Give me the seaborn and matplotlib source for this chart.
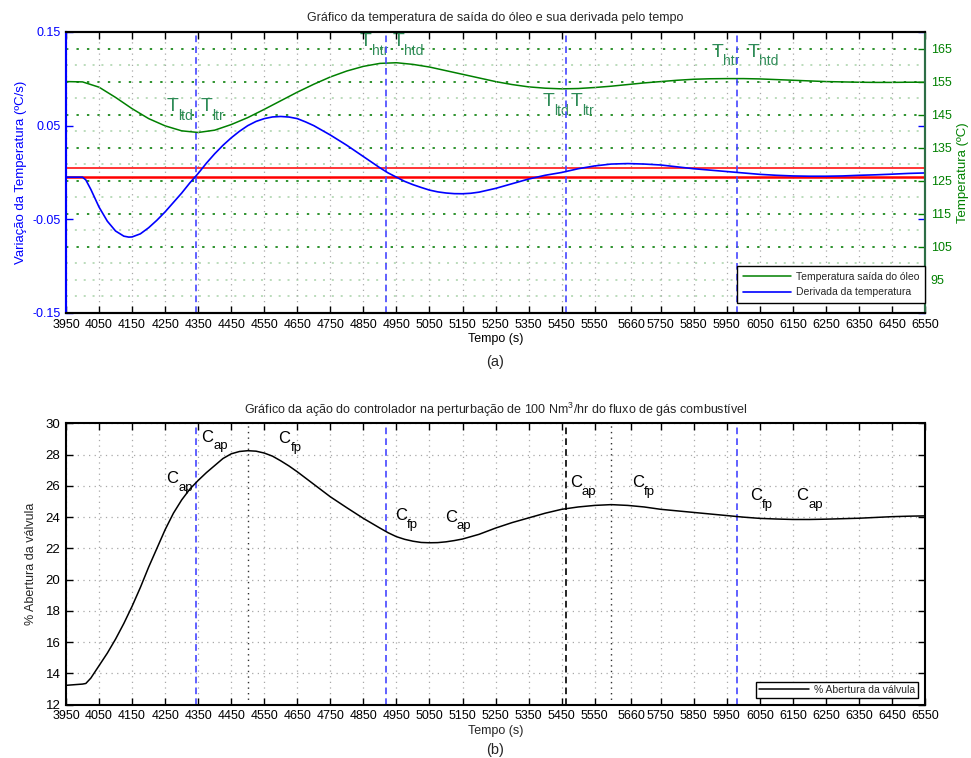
import matplotlib
matplotlib.use("Agg")
import matplotlib.pyplot as plt
import pandas as pd
import seaborn as sns

sns.set_theme(style="white")
plt.rcParams["font.family"] = ["Liberation Sans", "DejaVu Sans"]
plt.rcParams["mathtext.default"] = "regular"

# ---------------- data ----------------
# derivative of the oil outlet temperature (ºC/s)
deriv_time = [3950, 4000, 4010, 4025, 4050, 4075, 4100, 4125, 4140, 4150, 4175, 4200,
              4225, 4250, 4275, 4300, 4325, 4340, 4350, 4375, 4400, 4425, 4450, 4475,
              4500, 4525, 4550, 4575, 4600, 4625, 4650, 4675, 4700, 4750, 4800, 4850,
              4900, 4925, 4950, 4975, 5000, 5025, 5050, 5075, 5100, 5125, 5150, 5175,
              5200, 5250, 5300, 5350, 5400, 5450, 5500, 5550, 5600, 5650, 5700, 5750,
              5800, 5850, 5900, 5950, 6000, 6050, 6100, 6150, 6200, 6250, 6300, 6350,
              6400, 6450, 6500, 6550]
deriv_value = [-0.005, -0.005, -0.008, -0.018, -0.037, -0.052, -0.0625, -0.068, -0.069,
               -0.0688, -0.0655, -0.059, -0.051, -0.042, -0.032, -0.022, -0.011, -0.005,
               -0.001, 0.010, 0.020, 0.029, 0.037, 0.044, 0.050, 0.0545, 0.0575, 0.0593,
               0.0598, 0.0592, 0.0575, 0.054, 0.050, 0.040, 0.029, 0.017, 0.005, -0.0005,
               -0.005, -0.0095, -0.013, -0.016, -0.0188, -0.0207, -0.0219, -0.0226,
               -0.0227, -0.0222, -0.021, -0.017, -0.012, -0.007, -0.003, 0.000, 0.004,
               0.007, 0.009, 0.0095, 0.009, 0.008, 0.006, 0.004, 0.0025, 0.001, -0.0005,
               -0.002, -0.003, -0.0037, -0.004, -0.004, -0.0037, -0.003, -0.0025,
               -0.0018, -0.001, -0.0005]

# oil outlet temperature (ºC)
temp_time = [3950, 4000, 4050, 4100, 4150, 4200, 4250, 4300, 4350, 4400, 4450, 4500,
             4550, 4600, 4650, 4700, 4750, 4800, 4850, 4900, 4950, 5000, 5050, 5100,
             5150, 5200, 5250, 5300, 5350, 5400, 5450, 5500, 5550, 5600, 5650, 5700,
             5750, 5800, 5850, 5900, 5950, 6000, 6050, 6100, 6150, 6200, 6250, 6300,
             6350, 6400, 6450, 6500, 6550]
temp_value = [155.0, 154.9, 153.3, 150.2, 146.8, 143.8, 141.6, 140.1, 139.6, 140.3,
              142.0, 144.1, 146.6, 149.2, 151.8, 154.2, 156.4, 158.2, 159.6, 160.5,
              160.7, 160.2, 159.4, 158.3, 157.2, 156.1, 155.0, 154.1, 153.4, 153.0,
              152.8, 152.9, 153.2, 153.6, 154.1, 154.6, 155.0, 155.4, 155.7, 155.85,
              155.9, 155.9, 155.8, 155.6, 155.4, 155.2, 155.0, 154.9, 154.8, 154.75,
              154.75, 154.8, 154.8]

# valve opening (%)
valve_time = [3950, 3975, 4000, 4010, 4025, 4050, 4075, 4100, 4125, 4150, 4175, 4200,
              4225, 4250, 4275, 4300, 4325, 4350, 4375, 4400, 4425, 4450, 4475, 4500,
              4525, 4550, 4575, 4600, 4625, 4650, 4700, 4750, 4800, 4850, 4900, 4925,
              4950, 4975, 5000, 5025, 5050, 5075, 5100, 5125, 5150, 5200, 5250, 5300,
              5350, 5400, 5450, 5500, 5550, 5600, 5650, 5700, 5750, 5800, 5850, 5900,
              5950, 6000, 6050, 6100, 6150, 6200, 6250, 6300, 6350, 6400, 6450, 6500,
              6550]
valve_value = [13.24, 13.28, 13.32, 13.36, 13.7, 14.5, 15.3, 16.2, 17.2, 18.3, 19.5,
               20.8, 22.0, 23.2, 24.25, 25.1, 25.8, 26.35, 26.85, 27.3, 27.75, 28.05,
               28.2, 28.25, 28.22, 28.1, 27.9, 27.6, 27.27, 26.9, 26.1, 25.3, 24.6,
               23.92, 23.3, 23.0, 22.75, 22.58, 22.46, 22.38, 22.36, 22.37, 22.42, 22.5,
               22.6, 22.9, 23.3, 23.65, 23.95, 24.25, 24.5, 24.65, 24.75, 24.8, 24.75,
               24.65, 24.5, 24.4, 24.3, 24.2, 24.1, 24.0, 23.92, 23.88, 23.85, 23.85,
               23.87, 23.9, 23.93, 23.98, 24.03, 24.06, 24.08]

xtick_values = [3950, 4050, 4150, 4250, 4350, 4450, 4550, 4650, 4750, 4850, 4950, 5050,
                5150, 5250, 5350, 5450, 5550, 5660, 5750, 5850, 5950, 6050, 6150, 6250,
                6350, 6450, 6550]
xtick_labels = [str(v) for v in xtick_values]

deriv_ticks = [-0.15, -0.05, 0.05, 0.15]
deriv_tick_labels = ["-0.15", "-0.05", "0.05", "0.15"]
temp_ticks = [95, 105, 115, 125, 135, 145, 155, 165]
temp_minor_ticks = [90, 100, 110, 120, 130, 140, 150, 160, 170]
valve_ticks = [12, 14, 16, 18, 20, 22, 24, 26, 28, 30]

band_limits = [-0.005, 0.005]
event_times = [4342, 4917, 5462, 5980]
valve_extrema_times = [4500, 5600]

df_deriv = pd.DataFrame({"tempo": deriv_time, "derivada": deriv_value})
df_temp = pd.DataFrame({"tempo": temp_time, "temperatura": temp_value})
df_valve = pd.DataFrame({"tempo": valve_time, "abertura": valve_value})

# ---------------- styling ----------------
BLUE = "#0000ff"
GREEN = "#008000"
SPINE_GREEN = "#2d6e46"
TEXT_GREEN = "#2e8b57"
DASH_BLUE = "#4545ff"
GRID_GRAY = "#a8a8a8"
GRID_DARK_GREEN = "#1e8a1e"
GRID_LIGHT_GREEN = "#a8d2a8"
DOTS = (0, (1.3, 4.5))
FS = 9


def sub_label(ax, x, y, main, sub, color, size, sub_size, advance, drop):
    """Letter with a subscript placed below its baseline."""
    ax.text(x, y, main, color=color, fontsize=size, ha="left", va="baseline")
    ax.annotate(sub, xy=(x, y), xytext=(advance, -drop), textcoords="offset points",
                color=color, fontsize=sub_size, ha="left", va="baseline")


fig = plt.figure(figsize=(9.71, 7.58), dpi=100)
ax1 = fig.add_axes([0.068, 0.5871, 0.8847, 0.3707])
ax2 = ax1.twinx()
ax3 = fig.add_axes([0.068, 0.0703, 0.8847, 0.3712])

# derivative axis drawn above the temperature axis
ax1.set_zorder(ax2.get_zorder() + 1)
ax1.patch.set_visible(False)

# ---------------- top panel ----------------
sns.lineplot(data=df_temp, x="tempo", y="temperatura", ax=ax2, color=GREEN, lw=1.1,
             legend=False)
sns.lineplot(data=df_deriv, x="tempo", y="derivada", ax=ax1, color=BLUE, lw=1.2,
             legend=False)

ax1.axhline(band_limits[1], color="red", lw=1.1, zorder=1.5)
ax1.axhline(band_limits[0], color="red", lw=1.8, zorder=1.5)
for t in event_times:
    ax1.axvline(t, color=DASH_BLUE, lw=1.2, ls=(0, (4, 2.5)), zorder=1.8)

ax1.set_xlim(3950, 6550)
ax1.set_ylim(-0.15, 0.15)
ax2.set_ylim(85, 170)
ax1.set_xticks(xtick_values)
ax1.set_xticklabels(xtick_labels, fontsize=FS)
ax1.set_yticks(deriv_ticks)
ax1.set_yticklabels(deriv_tick_labels, fontsize=FS)
ax2.set_yticks(temp_ticks)
ax2.set_yticklabels([str(v) for v in temp_ticks], fontsize=FS)
ax2.set_yticks(temp_minor_ticks, minor=True)

ax1.grid(False)
ax2.grid(False)
ax1.grid(axis="x", color=GRID_GRAY, ls=(0, (1, 3.5)), lw=0.9)
ax2.grid(axis="y", which="minor", color=GRID_LIGHT_GREEN, ls=DOTS, lw=1.1)
for v in temp_ticks:
    ax2.axhline(v, color=GRID_DARK_GREEN if v > temp_ticks[0] else GRID_LIGHT_GREEN,
                ls=DOTS, lw=1.3 if v > temp_ticks[0] else 1.1, zorder=0.5)

ax1.tick_params(axis="x", direction="in", length=5, width=1, top=True, bottom=True,
                colors="black", pad=4)
ax1.tick_params(axis="y", direction="in", length=5, width=1, left=True, right=True,
                labelright=False, colors=BLUE, pad=4)
ax2.tick_params(axis="y", which="major", direction="in", length=5, width=1,
                colors=GREEN, pad=4)
ax2.tick_params(axis="y", which="minor", length=0)

for ax in (ax1, ax2):
    for side in ("top", "bottom"):
        ax.spines[side].set_color("black")
        ax.spines[side].set_linewidth(1.5)
    ax.spines["left"].set_color(BLUE)
    ax.spines["left"].set_linewidth(1.5)
    ax.spines["right"].set_color(SPINE_GREEN)
    ax.spines["right"].set_linewidth(1.5)

ax1.set_xlabel("Tempo (s)", fontsize=FS, labelpad=2, color="black")
ax1.set_ylabel("Variação da Temperatura (ºC/s)", fontsize=FS + 0.5, color=BLUE,
               labelpad=4)
ax2.set_ylabel("Temperatura (ºC)", fontsize=FS + 0.5, color=GREEN, labelpad=4)
ax1.set_title("Gráfico da temperatura de saída do óleo e sua derivada pelo tempo",
              fontsize=FS, pad=8)
fig.text(0.510, 1 - 362 / 758, "(a)", ha="center", va="center", fontsize=10.5)

top_notes = [("ltd", 4255, 146.0), ("ltr", 4356, 146.0),
             ("htr", 4840, 165.7), ("htd", 4937, 165.7),
             ("ltd", 5391, 147.5), ("ltr", 5478, 147.5),
             ("htr", 5903, 162.5), ("htd", 6013, 162.5)]
for sub, x, y in top_notes:
    sub_label(ax2, x, y, "T", sub, TEXT_GREEN, 14, 10, 8.3, 6.0)

temp_line = ax2.get_lines()[0]
deriv_line = ax1.get_lines()[0]
leg1 = ax1.legend([temp_line, deriv_line],
                  ["Temperatura saída do óleo", "Derivada da temperatura"],
                  loc="lower right", bbox_to_anchor=(0.9995, 0.035), borderaxespad=0,
                  fontsize=7.5, frameon=True, fancybox=False, framealpha=1,
                  edgecolor="black", handlelength=4.6, handletextpad=0.45,
                  borderpad=0.55, labelspacing=0.55)
leg1.get_frame().set_linewidth(1.0)

# ---------------- bottom panel ----------------
sns.lineplot(data=df_valve, x="tempo", y="abertura", ax=ax3, color="black", lw=1.1,
             legend=False)
for t, c in zip(event_times, [DASH_BLUE, DASH_BLUE, "black", DASH_BLUE]):
    ax3.axvline(t, color=c, lw=1.2, ls=(0, (4, 2.5)), zorder=1.8)
for t in valve_extrema_times:
    ax3.axvline(t, color="#303030", lw=1.0, ls=(0, (1, 3)), zorder=1.7)

ax3.set_xlim(3950, 6550)
ax3.set_ylim(12, 30)
ax3.set_xticks(xtick_values)
ax3.set_xticklabels(xtick_labels, fontsize=FS)
ax3.set_yticks(valve_ticks)
ax3.set_yticklabels([str(v) for v in valve_ticks], fontsize=FS + 0.5)
ax3.grid(color=GRID_GRAY, ls=(0, (1, 3.5)), lw=0.9)
ax3.tick_params(axis="both", direction="in", length=5, width=1, top=True, bottom=True,
                left=True, right=True, colors="black", pad=4)
for side in ("top", "bottom", "left", "right"):
    ax3.spines[side].set_color("black")
    ax3.spines[side].set_linewidth(1.5)

ax3.set_xlabel("Tempo (s)", fontsize=FS, labelpad=2)
ax3.set_ylabel("% Abertura da válvula", fontsize=FS, labelpad=6)
ax3.set_title("Gráfico da ação do controlador na perturbação de 100 Nm$^3$/hr do fluxo "
              "de gás combustível", fontsize=FS, pad=7)
fig.text(0.510, 1 - 750 / 758, "(b)", ha="center", va="center", fontsize=10.5)

bottom_notes = [("ap", 4253, 26.18), ("ap", 4360, 28.82),
                ("fp", 4593, 28.73), ("fp", 4946, 23.81),
                ("ap", 5097, 23.70), ("ap", 5475, 25.90),
                ("fp", 5662, 25.90), ("fp", 6020, 25.09),
                ("ap", 6161, 25.09)]
for sub, x, y in bottom_notes:
    sub_label(ax3, x, y, "C", sub, "black", 12, 9.5, 8.6, 5.5)

leg2 = ax3.legend(ax3.get_lines()[:1], ["% Abertura da válvula"], loc="lower right",
                  bbox_to_anchor=(0.992, 0.024), borderaxespad=0, fontsize=7.5,
                  frameon=True, fancybox=False, framealpha=1, edgecolor="black",
                  handlelength=4.8, handletextpad=0.45, borderpad=0.3)
leg2.get_frame().set_linewidth(1.0)

fig.savefig("out.png", dpi=100)
